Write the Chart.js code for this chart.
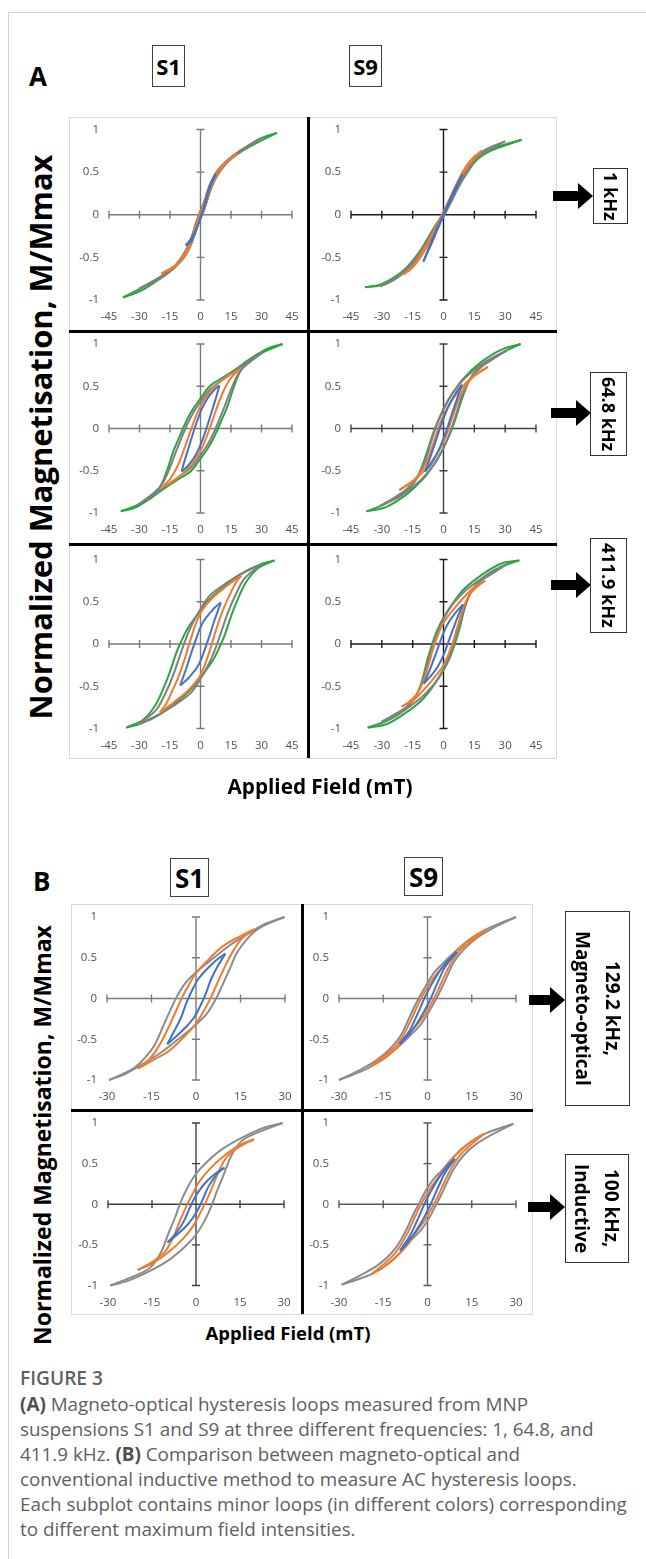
<!DOCTYPE html>
<html>
<head>
<meta charset="utf-8">
<title>Figure 3 - AC hysteresis loops</title>
<script src="https://cdn.jsdelivr.net/npm/chart.js@4.4.1/dist/chart.umd.min.js"></script>
<style>
  html, body { margin: 0; padding: 0; background: #fff; }
  body { position: relative; width: 646px; height: 1559px; overflow: hidden;
         font-family: "Open Sans", "DejaVu Sans", sans-serif; color: #000; }
  canvas { position: absolute; display: block; }
  .thin { position: absolute; background: #d3d3d3; }
  .box { position: absolute; border: 1px solid #d9d9d9; box-sizing: border-box; }
  .bar { position: absolute; background: #000; }
  .panel { position: absolute; font-weight: 700; font-size: 26px; line-height: 1; }
  .sbox { position: absolute; border: 1px solid #404040; box-sizing: border-box; font-weight: 700;
          display: flex; align-items: center; justify-content: center; }
  .fbox { position: absolute; border: 1.5px solid #333; box-sizing: border-box; writing-mode: vertical-rl;
          font-weight: 700; font-size: 18px; display: flex; align-items: center; justify-content: center;
          text-align: center; line-height: 30px; }
  .arrow { position: absolute; height: 0; }
  .arrow::before { content: ''; position: absolute; left: 0; right: 14px; top: -5px; height: 10px; background: #000; }
  .arrow::after { content: ''; position: absolute; right: 0; top: -13px; border-left: 15px solid #000;
                  border-top: 13px solid transparent; border-bottom: 13px solid transparent; }
  .title { position: absolute; font-weight: 700; white-space: nowrap; line-height: 1; transform: translate(-50%, -50%); }
  .ytitle { transform: translate(-50%, -50%) rotate(-90deg); }
  .cap { position: absolute; left: 20px; color: #606060; white-space: nowrap; }
  .cap b { color: #505050; }
</style>
</head>
<body>

<div class="thin" style="left:8px; top:12px; width:638px; height:1px"></div>
<div class="thin" style="left:8px; top:12px; width:1px; height:1547px"></div>

<!-- panel A frame -->
<div class="box" style="left:69px; top:117px; width:488px; height:642px"></div>
<div class="panel" style="left:29px; top:63px">A</div>
<div class="sbox" style="left:152px; top:45px; width:33px; height:42px; font-size:22px">S1</div>
<div class="sbox" style="left:349px; top:45px; width:33px; height:42px; font-size:22px">S9</div>

<!-- panel B frame -->
<div class="box" style="left:71px; top:904px; width:462px; height:411px"></div>
<div class="panel" style="left:33px; top:868px">B</div>
<div class="sbox" style="left:170px; top:858px; width:39px; height:39px; font-size:26px">S1</div>
<div class="sbox" style="left:404px; top:857px; width:39px; height:39px; font-size:26px">S9</div>

<div id="plots"></div>

<div class="bar" style="left:307px; top:117px; width:3px; height:641px"></div>
<div class="bar" style="left:69px; top:330px; width:488px; height:3px"></div>
<div class="bar" style="left:69px; top:543px; width:488px; height:3px"></div>
<div class="bar" style="left:301px; top:904px; width:3px; height:410px"></div>
<div class="bar" style="left:71px; top:1109px; width:462px; height:3px"></div>

<!-- frequency labels -->
<div class="arrow" style="left:553px; top:196px; width:40px"></div>
<div class="fbox" style="left:593px; top:168px; width:35px; height:56px">1 kHz</div>
<div class="arrow" style="left:551px; top:413px; width:40px"></div>
<div class="fbox" style="left:590px; top:372px; width:37px; height:84px">64.8 kHz</div>
<div class="arrow" style="left:551px; top:585px; width:40px"></div>
<div class="fbox" style="left:590px; top:538px; width:37px; height:95px">411.9 kHz</div>

<div class="arrow" style="left:529px; top:1000px; width:36px"></div>
<div class="fbox" style="left:565px; top:911px; width:65px; height:195px; font-size:19px">129.2 kHz,<br>Magneto-optical</div>
<div class="arrow" style="left:528px; top:1207px; width:37px"></div>
<div class="fbox" style="left:565px; top:1154px; width:64px; height:109px; font-size:19px">100 kHz,<br>Inductive</div>

<!-- axis titles -->
<div class="title ytitle" id="ytA" style="left:40px; top:437px">Normalized Magnetisation, M/Mmax</div>
<div class="title" id="xtA" style="left:320px; top:786px">Applied Field (mT)</div>
<div class="title ytitle" id="ytB" style="left:42px; top:1135px">Normalized Magnetisation, M/Mmax</div>
<div class="title" id="xtB" style="left:288px; top:1333px">Applied Field (mT)</div>

<!-- caption -->
<div class="cap" id="capHead" style="top:1366px; font-weight:600; line-height:25px">FIGURE 3</div>
<div class="cap" id="capBody" style="top:1392px; line-height:24.9px">
<b>(A)</b> Magneto-optical hysteresis loops measured from MNP<br>
suspensions S1 and S9 at three different frequencies: 1, 64.8, and<br>
411.9 kHz. <b>(B)</b> Comparison between magneto-optical and<br>
conventional inductive method to measure AC hysteresis loops.<br>
<span id="capWide">Each subplot contains minor loops (in different colors) corresponding</span><br>
to different maximum field intensities.
</div>

<script>
// tick labels
const xTicksA = [-45, -30, -15, 0, 15, 30, 45];
const xTicksB = [-30, -15, 0, 15, 30];
const yTicks = [-1, -0.5, 0, 0.5, 1];

// each loop: [H (mT), M/Mmax] from the + tip along the descending branch to the - tip, then back up

// A, 1 kHz, S1
const a1s1Green = [[37.6,0.96],[29.1,0.89],[19.3,0.74],[12.7,0.62],[7.8,0.49],[4.2,0.32],[1.6,0.13],[-0.8,0.0],[-2.4,-0.11],[-4.6,-0.28],[-7.8,-0.45],[-12.7,-0.61],[-19.3,-0.73],[-27.4,-0.84],[-38.1,-0.97],
  [-29.1,-0.89],[-19.3,-0.74],[-12.7,-0.62],[-7.8,-0.49],[-4.2,-0.32],[-1.6,-0.13],[0.8,0.0],[2.4,0.11],[4.6,0.28],[7.8,0.45],[12.7,0.61],[19.3,0.73],[27.4,0.84],[37.6,0.96]];
const a1s1Gray = [[29.6,0.90],[19.3,0.75],[12.7,0.63],[7.8,0.50],[4.2,0.33],[1.6,0.14],[-0.7,0.0],[-2.4,-0.11],[-4.6,-0.28],[-7.8,-0.44],[-12.7,-0.60],[-19.3,-0.72],[-30.4,-0.87],
  [-19.3,-0.74],[-12.7,-0.62],[-7.8,-0.49],[-4.2,-0.32],[-1.6,-0.13],[0.7,0.0],[2.4,0.10],[4.6,0.27],[7.8,0.44],[12.7,0.60],[19.3,0.73],[29.6,0.90]];
const a1s1Orange = [[18.4,0.72],[12.7,0.62],[7.8,0.48],[4.2,0.30],[1.4,0.11],[-0.7,-0.01],[-2.6,-0.14],[-4.8,-0.30],[-7.8,-0.46],[-12.2,-0.59],[-19.3,-0.69],
  [-12.7,-0.61],[-7.8,-0.48],[-4.4,-0.32],[-1.6,-0.13],[0.7,0.0],[2.6,0.12],[4.8,0.28],[7.8,0.45],[12.2,0.60],[18.4,0.72]];
const a1s1Blue = [[7.5,0.48],[4.8,0.35],[2.6,0.16],[0.4,0.0],[-1.8,-0.15],[-4.6,-0.28],[-7.3,-0.36],
  [-4.6,-0.31],[-2.2,-0.19],[0.0,-0.04],[2.2,0.12],[4.4,0.30],[7.5,0.48]];

// A, 1 kHz, S9
const a1s9Green = [[38.0,0.88],[30.7,0.83],[22.6,0.77],[16.1,0.67],[11.3,0.52],[7.2,0.36],[3.2,0.17],[-0.5,0.0],[-3.5,-0.11],[-6.8,-0.24],[-11.6,-0.43],[-18.0,-0.62],[-24.4,-0.74],[-30.9,-0.82],[-38.2,-0.85],
  [-30.9,-0.83],[-24.4,-0.75],[-18.0,-0.64],[-11.4,-0.45],[-6.4,-0.26],[-3.1,-0.13],[0.3,0.0],[3.6,0.15],[7.6,0.34],[11.7,0.50],[16.5,0.65],[22.8,0.75],[30.9,0.82],[38.0,0.88]];
const a1s9Gray = [[30.0,0.86],[22.6,0.79],[16.1,0.69],[11.3,0.53],[7.2,0.36],[3.2,0.17],[-0.5,0.0],[-3.5,-0.12],[-6.8,-0.26],[-11.6,-0.45],[-18.0,-0.63],[-24.4,-0.76],[-30.9,-0.84],
  [-24.4,-0.77],[-18.0,-0.65],[-11.4,-0.47],[-6.4,-0.28],[-3.1,-0.14],[0.3,-0.01],[3.6,0.15],[7.6,0.34],[11.7,0.51],[16.5,0.67],[22.8,0.77],[30.0,0.86]];
const a1s9Orange = [[18.6,0.75],[14.0,0.66],[10.0,0.53],[6.5,0.37],[3.0,0.19],[-0.4,0.02],[-3.5,-0.13],[-7.0,-0.30],[-11.5,-0.48],[-15.5,-0.62],[-19.5,-0.70],
  [-15.5,-0.63],[-11.2,-0.50],[-6.7,-0.32],[-3.1,-0.15],[0.2,0.0],[3.4,0.17],[6.8,0.35],[10.3,0.51],[14.2,0.64],[18.6,0.75]];
const a1s9Blue = [[9.3,0.47],[6.0,0.33],[3.0,0.17],[0.0,0.01],[-3.0,-0.15],[-6.5,-0.35],[-9.8,-0.55],
  [-6.2,-0.36],[-2.7,-0.16],[0.3,0.0],[3.3,0.16],[6.3,0.32],[9.3,0.47]];

// A, 64.8 kHz, S1
const a2s1Green = [[40.4,1.0],[32.4,0.94],[24.2,0.82],[16.0,0.68],[9.4,0.58],[4.5,0.50],[0.4,0.37],[-3.7,0.23],[-6.9,0.09],[-10.2,-0.09],[-13.5,-0.28],[-16.8,-0.52],[-20.1,-0.70],[-25.0,-0.82],[-31.5,-0.91],[-39.2,-0.98],
  [-32.4,-0.94],[-24.2,-0.82],[-16.0,-0.68],[-9.4,-0.58],[-4.5,-0.50],[-0.4,-0.37],[3.7,-0.23],[6.9,-0.09],[10.2,0.09],[13.5,0.28],[16.8,0.52],[20.1,0.70],[25.0,0.82],[31.5,0.91],[40.4,1.0]];
const a2s1Gray = [[30.5,0.90],[24.0,0.80],[16.0,0.66],[9.4,0.55],[4.5,0.46],[0.4,0.33],[-3.5,0.19],[-6.5,0.05],[-9.5,-0.12],[-12.8,-0.32],[-16.0,-0.52],[-19.5,-0.68],[-24.0,-0.78],[-30.5,-0.90],
  [-24.0,-0.80],[-16.0,-0.66],[-9.4,-0.55],[-4.5,-0.46],[-0.4,-0.33],[3.5,-0.19],[6.5,-0.05],[9.5,0.12],[12.8,0.32],[16.0,0.52],[19.5,0.68],[24.0,0.78],[30.5,0.90]];
const a2s1Orange = [[19.0,0.70],[14.0,0.63],[8.5,0.53],[4.0,0.42],[0.8,0.30],[-1.8,0.17],[-4.2,0.02],[-6.5,-0.14],[-9.2,-0.32],[-12.0,-0.48],[-15.0,-0.60],[-19.0,-0.70],
  [-14.0,-0.63],[-8.5,-0.53],[-4.0,-0.42],[-0.8,-0.30],[1.8,-0.17],[4.2,-0.02],[6.5,0.14],[9.2,0.32],[12.0,0.48],[15.0,0.60],[19.0,0.70]];
const a2s1Blue = [[9.3,0.51],[6.5,0.45],[3.5,0.36],[1.0,0.25],[-1.2,0.12],[-3.2,-0.02],[-5.0,-0.16],[-6.8,-0.30],[-8.3,-0.42],[-9.3,-0.51],
  [-6.5,-0.45],[-3.5,-0.36],[-1.0,-0.25],[1.2,-0.12],[3.2,0.02],[5.0,0.16],[6.8,0.30],[8.3,0.42],[9.3,0.51]];

// A, 64.8 kHz, S9
const a2s9Green = [[37.5,1.0],[28.0,0.93],[18.0,0.78],[10.0,0.60],[4.5,0.42],[0.5,0.25],[-2.5,0.10],[-4.8,-0.04],[-7.5,-0.24],[-10.5,-0.45],[-14.0,-0.63],[-20.0,-0.77],[-28.0,-0.89],[-37.5,-0.98],
  [-28.0,-0.93],[-18.0,-0.78],[-10.0,-0.60],[-4.5,-0.42],[-0.5,-0.25],[2.5,-0.10],[4.8,0.04],[7.5,0.24],[10.5,0.45],[14.0,0.63],[20.0,0.77],[28.0,0.89],[37.5,1.0]];
const a2s9Gray = [[30.5,0.92],[21.0,0.80],[11.5,0.62],[5.0,0.44],[1.0,0.28],[-2.0,0.12],[-4.2,-0.02],[-6.8,-0.22],[-9.5,-0.42],[-13.0,-0.59],[-18.0,-0.72],[-24.0,-0.82],[-30.5,-0.91],
  [-21.0,-0.80],[-11.5,-0.62],[-5.0,-0.44],[-1.0,-0.28],[2.0,-0.12],[4.2,0.02],[6.8,0.22],[9.5,0.42],[13.0,0.59],[18.0,0.72],[24.0,0.82],[30.5,0.92]];
const a2s9Orange = [[21.5,0.73],[15.0,0.63],[9.0,0.49],[4.0,0.33],[0.5,0.18],[-2.0,0.04],[-4.2,-0.12],[-7.0,-0.32],[-10.0,-0.48],[-14.0,-0.60],[-18.0,-0.67],[-21.5,-0.73],
  [-15.0,-0.63],[-9.0,-0.49],[-4.0,-0.33],[-0.5,-0.18],[2.0,-0.04],[4.2,0.12],[7.0,0.32],[10.0,0.48],[14.0,0.60],[18.0,0.67],[21.5,0.73]];
const a2s9Blue = [[9.0,0.52],[6.0,0.42],[3.0,0.29],[0.5,0.15],[-1.5,0.02],[-3.5,-0.13],[-6.0,-0.31],[-9.0,-0.51],
  [-6.0,-0.42],[-3.0,-0.29],[-0.5,-0.15],[1.5,-0.02],[3.5,0.13],[6.0,0.31],[9.0,0.52]];

// A, 411.9 kHz, S1
const a3s1Green = [[36.4,0.99],[29.0,0.94],[19.2,0.82],[9.3,0.64],[2.8,0.49],[-2.1,0.33],[-6.2,0.19],[-9.5,0.03],[-12.0,-0.11],[-15.2,-0.34],[-18.5,-0.54],[-22.6,-0.74],[-28.4,-0.90],[-36.5,-0.99],
  [-29.0,-0.94],[-19.2,-0.82],[-9.3,-0.64],[-2.8,-0.49],[2.1,-0.33],[6.2,-0.19],[9.5,-0.03],[12.0,0.11],[15.2,0.34],[18.5,0.54],[22.6,0.74],[28.4,0.90],[36.4,0.99]];
const a3s1Gray = [[29.9,0.94],[22.5,0.86],[12.6,0.72],[4.4,0.57],[-0.5,0.39],[-4.6,0.21],[-7.4,0.05],[-10.3,-0.15],[-13.6,-0.38],[-17.2,-0.58],[-21.8,-0.78],[-30.0,-0.94],
  [-22.5,-0.86],[-12.6,-0.72],[-4.4,-0.57],[0.5,-0.39],[4.6,-0.21],[7.4,-0.05],[10.3,0.15],[13.6,0.38],[17.2,0.58],[21.8,0.78],[29.9,0.94]];
const a3s1Orange = [[20.0,0.81],[12.6,0.68],[6.1,0.55],[1.1,0.41],[-2.1,0.25],[-4.9,0.05],[-7.4,-0.15],[-10.7,-0.38],[-13.6,-0.54],[-17.2,-0.72],[-20.0,-0.81],
  [-12.6,-0.68],[-6.1,-0.55],[-1.1,-0.41],[2.1,-0.25],[4.9,-0.05],[7.4,0.15],[10.7,0.38],[13.6,0.54],[17.2,0.72],[20.0,0.81]];
const a3s1Blue = [[10.0,0.49],[7.0,0.43],[4.4,0.36],[1.5,0.27],[-0.5,0.17],[-2.3,0.05],[-4.6,-0.11],[-7.0,-0.29],[-8.8,-0.41],[-10.0,-0.49],
  [-7.0,-0.43],[-4.4,-0.36],[-1.5,-0.27],[0.5,-0.17],[2.3,-0.05],[4.6,0.11],[7.0,0.29],[8.8,0.41],[10.0,0.49]];

// A, 411.9 kHz, S9
const a3s9Green = [[36.9,0.99],[27.9,0.95],[18.1,0.81],[10.0,0.65],[4.2,0.47],[0.2,0.32],[-3.1,0.16],[-5.5,0.0],[-8.0,-0.20],[-10.4,-0.43],[-13.7,-0.63],[-19.4,-0.79],[-27.6,-0.91],[-36.9,-0.99],
  [-27.9,-0.95],[-18.1,-0.81],[-10.0,-0.65],[-4.2,-0.47],[-0.2,-0.32],[3.1,-0.16],[5.5,0.0],[8.0,0.20],[10.4,0.43],[13.7,0.63],[19.4,0.79],[27.6,0.91],[36.9,0.99]];
const a3s9Gray = [[29.9,0.93],[21.4,0.82],[11.6,0.65],[5.1,0.49],[1.0,0.34],[-2.3,0.18],[-4.7,0.02],[-7.2,-0.18],[-9.6,-0.39],[-12.9,-0.59],[-17.8,-0.74],[-24.3,-0.84],[-30.0,-0.92],
  [-21.4,-0.82],[-11.6,-0.65],[-5.1,-0.49],[-1.0,-0.34],[2.3,-0.18],[4.7,-0.02],[7.2,0.18],[9.6,0.39],[12.9,0.59],[17.8,0.74],[24.3,0.84],[29.9,0.93]];
const a3s9Orange = [[20.2,0.75],[14.8,0.67],[9.1,0.53],[4.2,0.39],[0.2,0.26],[-2.8,0.10],[-5.1,-0.06],[-7.2,-0.24],[-9.6,-0.43],[-12.9,-0.59],[-17.0,-0.69],[-20.4,-0.74],
  [-14.8,-0.67],[-9.1,-0.53],[-4.2,-0.39],[-0.2,-0.26],[2.8,-0.10],[5.1,0.06],[7.2,0.24],[9.6,0.43],[12.9,0.59],[17.0,0.69],[20.2,0.75]];
const a3s9Blue = [[9.5,0.47],[5.9,0.37],[2.6,0.26],[-0.2,0.12],[-2.3,-0.02],[-4.7,-0.18],[-7.2,-0.34],[-9.6,-0.47],
  [-5.9,-0.37],[-2.6,-0.26],[0.2,-0.12],[2.3,0.02],[4.7,0.18],[7.2,0.34],[9.5,0.47]];

// B, 129.2 kHz magneto-optical, S1
const b1s1Gray = [[29.8,1.0],[23.6,0.92],[16.9,0.78],[11.3,0.65],[5.7,0.49],[0.6,0.34],[-3.6,0.19],[-6.5,0.02],[-8.6,-0.14],[-11.2,-0.35],[-13.8,-0.56],[-17.0,-0.72],[-21.2,-0.86],[-29.3,-1.0],
  [-23.6,-0.92],[-16.9,-0.78],[-11.3,-0.65],[-5.7,-0.49],[-0.6,-0.34],[3.6,-0.19],[6.5,-0.02],[8.6,0.14],[11.2,0.35],[13.8,0.56],[17.0,0.72],[21.2,0.86],[29.8,1.0]];
const b1s1Orange = [[19.7,0.85],[14.6,0.76],[9.0,0.64],[4.0,0.47],[0.0,0.31],[-2.8,0.14],[-5.0,-0.01],[-7.2,-0.19],[-10.0,-0.41],[-12.8,-0.60],[-15.6,-0.74],[-19.6,-0.86],
  [-14.6,-0.76],[-9.0,-0.64],[-4.0,-0.47],[0.0,-0.31],[2.8,-0.14],[5.0,0.01],[7.2,0.19],[10.0,0.41],[12.8,0.60],[15.6,0.74],[19.7,0.85]];
const b1s1Blue = [[9.9,0.55],[6.8,0.47],[3.4,0.35],[0.6,0.23],[-1.6,0.08],[-3.3,-0.06],[-5.0,-0.23],[-7.2,-0.39],[-9.7,-0.56],
  [-6.8,-0.47],[-3.4,-0.35],[-0.6,-0.23],[1.6,-0.08],[3.3,0.06],[5.0,0.23],[7.2,0.39],[9.9,0.55]];

// B, 129.2 kHz magneto-optical, S9
const b1s9Gray = [[30.0,1.0],[25.0,0.93],[20.0,0.85],[15.0,0.74],[11.0,0.63],[8.0,0.53],[5.0,0.42],[2.5,0.33],[0.5,0.22],[-1.3,0.11],[-3.0,0.0],[-4.7,-0.12],[-6.6,-0.27],[-9.0,-0.45],[-12.5,-0.61],[-17.0,-0.75],[-22.5,-0.87],[-30.0,-1.0],
  [-25.0,-0.93],[-20.0,-0.85],[-15.0,-0.74],[-11.0,-0.63],[-8.0,-0.53],[-5.0,-0.42],[-2.5,-0.33],[-0.5,-0.22],[1.3,-0.11],[3.0,0.0],[4.7,0.12],[6.6,0.27],[9.0,0.45],[12.5,0.61],[17.0,0.75],[22.5,0.87],[30.0,1.0]];
const b1s9Orange = [[20.1,0.85],[16.0,0.77],[12.0,0.66],[8.5,0.53],[5.5,0.40],[3.0,0.30],[0.8,0.19],[-0.8,0.09],[-2.2,0.0],[-3.8,-0.12],[-5.8,-0.28],[-8.2,-0.45],[-11.2,-0.60],[-15.0,-0.71],[-19.5,-0.83],
  [-16.0,-0.77],[-12.0,-0.66],[-8.5,-0.53],[-5.5,-0.40],[-3.0,-0.30],[-0.8,-0.19],[0.8,-0.09],[2.2,0.0],[3.8,0.12],[5.8,0.28],[8.2,0.45],[11.2,0.60],[15.0,0.71],[20.1,0.85]];
const b1s9Blue = [[9.9,0.57],[7.5,0.49],[5.0,0.38],[2.8,0.26],[1.0,0.15],[-1.1,0.0],[-2.4,-0.11],[-4.0,-0.24],[-6.0,-0.39],[-9.5,-0.56],
  [-7.5,-0.49],[-5.0,-0.38],[-2.8,-0.26],[-1.0,-0.15],[1.1,0.0],[2.4,0.11],[4.0,0.24],[6.0,0.39],[9.9,0.57]];

// B, 100 kHz inductive, S1
const b2s1Gray = [[29.5,1.0],[23.0,0.94],[16.2,0.83],[9.4,0.69],[3.7,0.52],[-0.3,0.36],[-3.1,0.19],[-5.4,0.01],[-7.1,-0.16],[-9.4,-0.36],[-12.2,-0.61],[-15.6,-0.78],[-20.1,-0.87],[-29.2,-1.0],
  [-23.0,-0.94],[-16.2,-0.83],[-9.4,-0.69],[-3.7,-0.52],[0.3,-0.36],[3.1,-0.19],[5.4,-0.01],[7.1,0.16],[9.4,0.36],[12.2,0.61],[15.6,0.78],[20.1,0.87],[29.5,1.0]];
const b2s1Orange = [[19.8,0.80],[15.0,0.73],[9.4,0.59],[4.3,0.42],[0.8,0.26],[-1.4,0.11],[-3.1,-0.01],[-5.2,-0.18],[-7.7,-0.40],[-10.5,-0.58],[-14.5,-0.70],[-19.9,-0.81],
  [-15.0,-0.73],[-9.4,-0.59],[-4.3,-0.42],[-0.8,-0.26],[1.4,-0.11],[3.1,0.01],[5.2,0.18],[7.7,0.40],[10.5,0.58],[14.5,0.70],[19.8,0.80]];
const b2s1Blue = [[9.7,0.45],[6.0,0.36],[2.6,0.24],[-0.3,0.09],[-2.2,-0.05],[-4.3,-0.22],[-7.1,-0.37],[-9.7,-0.47],
  [-6.0,-0.36],[-2.6,-0.24],[0.3,-0.09],[2.2,0.05],[4.3,0.22],[7.1,0.37],[9.7,0.45]];

// B, 100 kHz inductive, S9
const b2s9Gray = [[29.1,0.99],[24.0,0.93],[19.0,0.86],[14.5,0.76],[10.5,0.64],[7.5,0.53],[5.0,0.42],[2.5,0.33],[0.5,0.23],[-1.3,0.12],[-3.0,0.0],[-4.7,-0.12],[-6.6,-0.27],[-9.0,-0.44],[-12.2,-0.60],[-16.5,-0.74],[-22.0,-0.86],[-29.1,-0.99],
  [-24.0,-0.93],[-19.0,-0.86],[-14.5,-0.76],[-10.5,-0.64],[-7.5,-0.53],[-5.0,-0.42],[-2.5,-0.33],[-0.5,-0.23],[1.3,-0.12],[3.0,0.0],[4.7,0.12],[6.6,0.27],[9.0,0.44],[12.2,0.60],[16.5,0.74],[22.0,0.86],[29.1,0.99]];
const b2s9Orange = [[19.3,0.87],[15.5,0.79],[11.5,0.68],[8.2,0.55],[5.4,0.42],[3.0,0.30],[0.8,0.19],[-0.8,0.09],[-2.2,0.0],[-3.8,-0.12],[-5.8,-0.28],[-8.2,-0.45],[-11.2,-0.61],[-15.0,-0.74],[-18.9,-0.86],
  [-15.5,-0.79],[-11.5,-0.68],[-8.2,-0.55],[-5.4,-0.42],[-3.0,-0.30],[-0.8,-0.19],[0.8,-0.09],[2.2,0.0],[3.8,0.12],[5.8,0.28],[8.2,0.45],[11.2,0.61],[15.0,0.74],[19.3,0.87]];
const b2s9Blue = [[9.3,0.56],[7.0,0.48],[4.7,0.37],[2.7,0.26],[1.0,0.15],[-1.1,0.0],[-2.4,-0.11],[-4.0,-0.24],[-6.0,-0.39],[-9.3,-0.57],
  [-7.0,-0.48],[-4.7,-0.37],[-2.7,-0.26],[-1.0,-0.15],[1.1,0.0],[2.4,0.11],[4.0,0.24],[6.0,0.39],[9.3,0.56]];

const GREEN = '#2ba541';
const GRAY = '#808080';
const GRAY_B = '#8c8c8c';
const ORANGE = '#ed7d31';
const BLUE = '#4472c4';

const Y_W = 30;   // fixed y scale width
const X_H = 24;   // fixed x scale height

// axes crossing at the origin, Excel style, with cross tick marks
const crossAxes = {
  id: 'crossAxes',
  beforeDatasetsDraw(chart, args, opts) {
    const { ctx, scales: { x, y } } = chart;
    const x0 = x.getPixelForValue(0);
    const y0 = y.getPixelForValue(0);
    ctx.save();
    ctx.strokeStyle = opts.color;
    ctx.lineWidth = 1.4;
    ctx.beginPath();
    ctx.moveTo(x.left, y0); ctx.lineTo(x.right, y0);
    ctx.moveTo(x0, y.top); ctx.lineTo(x0, y.bottom);
    x.ticks.forEach(t => {
      const px = x.getPixelForValue(t.value);
      ctx.moveTo(px, y0 - 4); ctx.lineTo(px, y0 + 4);
    });
    y.ticks.forEach(t => {
      const py = y.getPixelForValue(t.value);
      ctx.moveTo(x0 - 4, py); ctx.lineTo(x0 + 4, py);
    });
    ctx.stroke();
    ctx.restore();
  }
};

// split a closed loop at its negative tip into two open branches
function branches(loop, color) {
  let iMin = 0;
  loop.forEach((p, i) => { if (p[0] < loop[iMin][0]) iMin = i; });
  const toXY = arr => arr.map(p => ({ x: p[0], y: p[1] }));
  return [loop.slice(0, iMin + 1), loop.slice(iMin)].map(part => ({
    data: toXY(part),
    borderColor: color,
    borderWidth: 2,
    showLine: true,
    pointRadius: 0,
    tension: 0.35,
    fill: false,
    clip: false
  }));
}

function tickFont() {
  return { family: '"Open Sans", sans-serif', size: 11.5 };
}

function makePlot(p) {
  const cv = document.createElement('canvas');
  cv.width = p.w; cv.height = p.h;
  cv.style.left = p.left + 'px'; cv.style.top = p.top + 'px';
  cv.style.width = p.w + 'px'; cv.style.height = p.h + 'px';
  document.getElementById('plots').appendChild(cv);

  // Chart.js paints the first dataset last, so list the innermost loop first
  const datasets = [];
  p.loops.forEach(([loop, color]) => datasets.push(...branches(loop, color)));

  return new Chart(cv, {
    type: 'scatter',
    data: { datasets },
    options: {
      responsive: false,
      animation: false,
      events: [],
      layout: { padding: { left: p.pad[0] - Y_W, top: p.pad[1], right: p.pad[2], bottom: p.pad[3] - X_H } },
      plugins: { legend: { display: false }, tooltip: { enabled: false }, crossAxes: { color: p.axis } },
      scales: {
        x: {
          type: 'linear',
          min: p.xTicks[0],
          max: p.xTicks[p.xTicks.length - 1],
          afterBuildTicks: s => { s.ticks = p.xTicks.map(v => ({ value: v })); },
          afterFit: s => { s.height = X_H; s.paddingLeft = 0; s.paddingRight = 0; },
          grid: { display: false, drawTicks: false },
          border: { display: false },
          ticks: { padding: 10, color: '#505050', font: tickFont(), autoSkip: false, maxRotation: 0, callback: v => String(v) }
        },
        y: {
          type: 'linear',
          min: -1,
          max: 1,
          afterBuildTicks: s => { s.ticks = yTicks.map(v => ({ value: v })); },
          afterFit: s => { s.width = Y_W; s.paddingTop = 0; s.paddingBottom = 0; },
          grid: { display: false, drawTicks: false },
          border: { display: false },
          ticks: { padding: 10, color: '#505050', font: tickFont(), autoSkip: false, callback: v => String(v) }
        }
      }
    },
    plugins: [crossAxes]
  });
}

const plots = [
  // panel A
  { left: 69, top: 117, w: 239, h: 214, pad: [40, 12.5, 16, 31], xTicks: xTicksA, axis: '#7a7a7a',
    loops: [[a1s1Blue, BLUE], [a1s1Orange, ORANGE], [a1s1Gray, GRAY], [a1s1Green, GREEN]] },
  { left: 308, top: 117, w: 248, h: 214, pad: [43, 12.5, 20, 31], xTicks: xTicksA, axis: '#1a1a1a',
    loops: [[a1s9Blue, BLUE], [a1s9Orange, ORANGE], [a1s9Gray, GRAY], [a1s9Green, GREEN]] },
  { left: 69, top: 331, w: 239, h: 214, pad: [40, 13, 16, 32], xTicks: xTicksA, axis: '#7a7a7a',
    loops: [[a2s1Blue, BLUE], [a2s1Orange, ORANGE], [a2s1Gray, GRAY], [a2s1Green, GREEN]] },
  { left: 308, top: 331, w: 248, h: 214, pad: [43, 13, 20, 32], xTicks: xTicksA, axis: '#404040',
    loops: [[a2s9Blue, BLUE], [a2s9Orange, ORANGE], [a2s9Gray, GRAY], [a2s9Green, GREEN]] },
  { left: 69, top: 545, w: 239, h: 213, pad: [40, 14.5, 16, 29.5], xTicks: xTicksA, axis: '#7a7a7a',
    loops: [[a3s1Blue, BLUE], [a3s1Orange, ORANGE], [a3s1Gray, GRAY], [a3s1Green, GREEN]] },
  { left: 308, top: 545, w: 248, h: 213, pad: [43, 14.5, 20, 29.5], xTicks: xTicksA, axis: '#1a1a1a',
    loops: [[a3s9Blue, BLUE], [a3s9Orange, ORANGE], [a3s9Gray, GRAY], [a3s9Green, GREEN]] },
  // panel B
  { left: 71, top: 904, w: 231, h: 207, pad: [36, 13, 17, 31], xTicks: xTicksB, axis: '#7a7a7a',
    loops: [[b1s1Blue, BLUE], [b1s1Orange, ORANGE], [b1s1Gray, GRAY_B]] },
  { left: 302, top: 904, w: 230, h: 207, pad: [37, 13, 16, 31], xTicks: xTicksB, axis: '#7a7a7a',
    loops: [[b1s9Blue, BLUE], [b1s9Orange, ORANGE], [b1s9Gray, GRAY_B]] },
  { left: 71, top: 1111, w: 231, h: 203, pad: [37, 12, 18, 28.5], xTicks: xTicksB, axis: '#404040',
    loops: [[b2s1Blue, BLUE], [b2s1Orange, ORANGE], [b2s1Gray, GRAY_B]] },
  { left: 302, top: 1111, w: 230, h: 203, pad: [37, 12, 16, 28.5], xTicks: xTicksB, axis: '#595959',
    loops: [[b2s9Blue, BLUE], [b2s9Orange, ORANGE], [b2s9Gray, GRAY_B]] }
];

plots.forEach(makePlot);

// size text to the lengths measured on the figure
function fontFor(text, weight, length) {
  const ctx = document.createElement('canvas').getContext('2d');
  ctx.font = weight + ' 100px "Open Sans"';
  return 100 * length / ctx.measureText(text).width;
}
function fitText(id, weight, length) {
  const el = document.getElementById(id);
  el.style.fontSize = fontFor(el.textContent, weight, length).toFixed(2) + 'px';
}
fitText('ytA', 700, 565);
fitText('xtA', 700, 185);
fitText('ytB', 700, 420);
fitText('xtB', 700, 165);
fitText('capHead', 600, 83);
document.getElementById('capBody').style.fontSize =
  fontFor(document.getElementById('capWide').textContent, 400, 607).toFixed(2) + 'px';
</script>
</body>
</html>
